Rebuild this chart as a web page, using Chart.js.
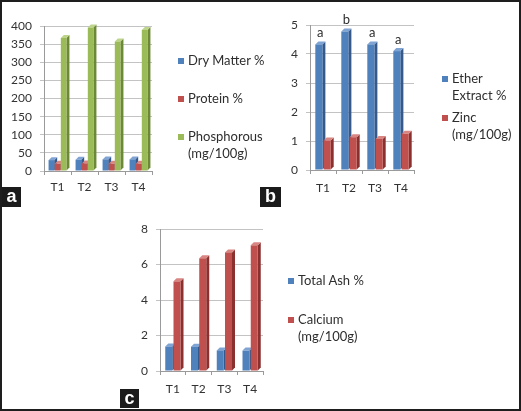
<!DOCTYPE html>
<html><head><meta charset="utf-8">
<script src="https://cdn.jsdelivr.net/npm/chart.js@4"></script>
<style>
html,body{margin:0;padding:0;background:#fff;}
#fig{position:relative;width:521px;height:411px;overflow:hidden;font-family:Lato,'Liberation Sans',sans-serif;background:#fff;}
#frame{position:absolute;left:0;top:0;width:521px;height:411px;box-sizing:border-box;border:2px solid #1e1e1e;pointer-events:none;}
canvas{position:absolute;}
.leg{position:absolute;font-size:13px;color:#2e2e2e;line-height:17px;white-space:nowrap;}
.sw{position:absolute;width:6px;height:6px;}
.tag{position:absolute;background:#1b1b1b;color:#fff;font:bold 18px 'Liberation Sans',Arial,sans-serif;text-align:center;}
</style></head>
<body>
<div id="fig">
  <canvas id="ca" width="165" height="205" style="left:0;top:0;width:165px;height:205px"></canvas>
  <canvas id="cb" width="165" height="205" style="left:262px;top:0;width:165px;height:205px"></canvas>
  <canvas id="cc" width="160" height="200" style="left:115px;top:207px;width:160px;height:200px"></canvas>
  <div class="tag" style="left:2px;top:187px;width:19px;height:20px;line-height:19px">a</div>
  <div class="tag" style="left:260px;top:187px;width:21px;height:20px;line-height:19px">b</div>
  <div class="tag" style="left:120px;top:389px;width:19px;height:19px;line-height:18px">c</div>
  <div id="frame"></div>
</div>
<script>
// ---- data ----
const categories = ['T1', 'T2', 'T3', 'T4'];

const dryMatter   = [30, 31, 32, 32];
const protein     = [20, 21, 20, 20];
const phosphorous = [367, 396, 357, 389];
const ticksA = [0, 50, 100, 150, 200, 250, 300, 350, 400];

const etherExtract = [4.33, 4.78, 4.33, 4.10];
const zinc         = [1.02, 1.13, 1.07, 1.25];
const etherLetters = ['a', 'b', 'a', 'a'];
const ticksB = [0, 1, 2, 3, 4, 5];

const totalAsh = [1.38, 1.37, 1.16, 1.15];
const calcium  = [5.05, 6.35, 6.68, 7.08];
const ticksC = [0, 2, 4, 6, 8];

const namesA = [['Dry Matter %'], ['Protein %'], ['Phosphorous', '(mg/100g)']];
const namesB = [['Ether', 'Extract %'], ['Zinc', '(mg/100g)']];
const namesC = [['Total Ash %'], ['Calcium', '(mg/100g)']];

// ---- styles ----
const BLUE = {front:'#4F81BD', side:'#34598A', top:'#7FA3D3'};
const RED  = {front:'#C0504D', side:'#8A3130', top:'#D98683'};
const GREEN= {front:'#9BBB59', side:'#6C8A35', top:'#BCD58A'};

Chart.defaults.font.family = "Lato, 'Liberation Sans', sans-serif";
Chart.defaults.font.size = 12;
Chart.defaults.color = '#333';

const bar3d = {
  id: 'bar3d',
  beforeDatasetsDraw(chart, args, opts) {
    const ctx = chart.ctx, d = opts.depth || 3;
    ctx.save();
    chart.data.datasets.forEach((ds, i) => {
      const meta = chart.getDatasetMeta(i);
      meta.data.forEach(el => {
        const p = el.getProps(['x', 'y', 'base', 'width'], true);
        const l = p.x - p.width / 2, r = p.x + p.width / 2;
        ctx.fillStyle = ds.sideColor;
        ctx.beginPath();
        ctx.moveTo(r, p.y); ctx.lineTo(r + d, p.y - d); ctx.lineTo(r + d, p.base - d); ctx.lineTo(r, p.base);
        ctx.closePath(); ctx.fill();
        ctx.fillStyle = ds.topColor;
        ctx.beginPath();
        ctx.moveTo(l, p.y); ctx.lineTo(l + d, p.y - d); ctx.lineTo(r + d, p.y - d); ctx.lineTo(r, p.y);
        ctx.closePath(); ctx.fill();
      });
    });
    ctx.restore();
  }
};

const letterPlugin = {
  id: 'letters',
  afterDatasetsDraw(chart, args, opts) {
    if (!opts.labels) return;
    const ctx = chart.ctx;
    const meta = chart.getDatasetMeta(0);
    ctx.save();
    ctx.font = "13px Lato, 'Liberation Sans', sans-serif";
    ctx.fillStyle = '#2e2e2e';
    ctx.textAlign = 'center';
    ctx.textBaseline = 'alphabetic';
    meta.data.forEach((el, j) => {
      const p = el.getProps(['x', 'y'], true);
      ctx.fillText(opts.labels[j], p.x + 1.5, p.y - 7);
    });
    ctx.restore();
  }
};

function makeChart(id, W, H, area, ticks, series, colors, catPct, barPct, letters) {
  const datasets = series.map((s, i) => ({
    data: s,
    backgroundColor: colors[i].front,
    sideColor: colors[i].side,
    topColor: colors[i].top,
    borderWidth: 0,
    categoryPercentage: catPct,
    barPercentage: barPct
  }));
  const step = ticks[1] - ticks[0];
  new Chart(document.getElementById(id), {
    type: 'bar',
    data: {labels: categories, datasets},
    plugins: [bar3d, letterPlugin],
    options: {
      responsive: false, animation: false, devicePixelRatio: 1,
      layout: {padding: {left: 0, right: W - area.right, top: area.top, bottom: 0}},
      plugins: {legend: {display: false}, tooltip: {enabled: false},
        bar3d: {depth: 3}, letters: {labels: letters}},
      scales: {
        x: {
          grid: {display: true, drawOnChartArea: false, drawTicks: true, tickLength: 4, color: '#9a9a9a', offset: true},
          border: {display: true, color: '#9a9a9a'},
          ticks: {padding: area.xpad, color: '#333', font: {size: 12}},
          afterFit(s) { s.height = H - area.bottom; }
        },
        y: {
          min: ticks[0], max: ticks[ticks.length - 1],
          grid: {color: '#c3c3c3', drawTicks: true, tickLength: 4},
          border: {display: true, color: '#9a9a9a'},
          ticks: {stepSize: step, padding: 8, color: '#333', font: {size: 12}},
          afterFit(s) { s.width = area.left; }
        }
      }
    }
  });
}

makeChart('ca', 165, 205, {left: 44, right: 152, top: 26, bottom: 171, xpad: 5},
  ticksA, [dryMatter, protein, phosphorous], [BLUE, RED, GREEN], 0.68, 0.92, null);
makeChart('cb', 165, 205, {left: 48, right: 152, top: 25, bottom: 170, xpad: 7},
  ticksB, [etherExtract, zinc], [BLUE, RED], 0.64, 0.85, etherLetters);
makeChart('cc', 160, 200, {left: 45, right: 148, top: 22, bottom: 164, xpad: 7},
  ticksC, [totalAsh, calcium], [BLUE, RED], 0.64, 0.85, null);

// ---- HTML legends ----
function legend(names, colors, x, ys) {
  const fig = document.getElementById('fig');
  names.forEach((lines, i) => {
    const sw = document.createElement('div');
    sw.className = 'sw';
    sw.style.background = colors[i].front;
    sw.style.left = (x - 10) + 'px';
    sw.style.top = (ys[i] - 3) + 'px';
    fig.appendChild(sw);
    const t = document.createElement('div');
    t.className = 'leg';
    t.style.left = x + 'px';
    t.style.top = (ys[i] - 9) + 'px';
    t.innerHTML = lines.join('<br>');
    fig.appendChild(t);
  });
}
legend(namesA, [BLUE, RED, GREEN], 188, [61, 99, 137]);
legend(namesB, [BLUE, RED], 452, [79, 118]);
legend(namesC, [BLUE, RED], 298, [281, 320]);
</script>
</body></html>
